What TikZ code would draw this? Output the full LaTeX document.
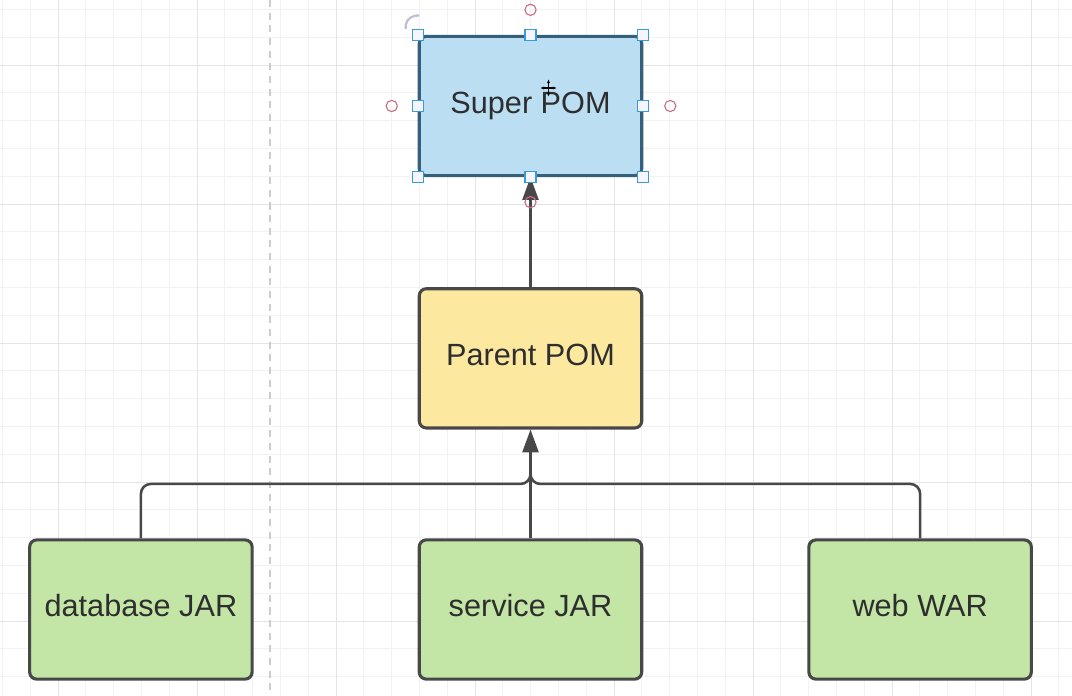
\documentclass[tikz,border=0pt]{standalone}
\usepackage{fontspec}
\setmainfont{Liberation Sans}
\usetikzlibrary{arrows.meta,positioning,calc}
\definecolor{pomblue}{HTML}{BBDEF3}
\definecolor{pomyellow}{HTML}{FDE8A0}
\definecolor{pomgreen}{HTML}{C3E6A6}
\definecolor{edgegray}{HTML}{484848}
\definecolor{selblue}{HTML}{34607C}
\definecolor{handleblue}{HTML}{3B9AD8}
\definecolor{ptred}{HTML}{C8707E}
\definecolor{gridminor}{HTML}{F2F2F2}
\definecolor{gridmajor}{HTML}{E4E4E4}
\tikzset{
  pombox/.style={rectangle, rounded corners=5pt, draw=edgegray, line width=2.2pt, fill=#1,
                 font=\fontsize{21.8}{26}\selectfont, text=black!82,
                 text height=0.6cm, text depth=0.25cm,
                 minimum width=5.56cm, minimum height=3.48cm, inner sep=0pt},
  link/.style={-{Triangle[length=0.57cm, width=0.4cm]}, line width=1.8pt, draw=edgegray},
  branch/.style={line width=1.8pt, draw=edgegray, rounded corners=7pt},
  handle/.style={draw=handleblue, fill=blue!4, line width=0.8pt},
  anchorpt/.style={draw=ptred, line width=0.8pt},
}
\begin{document}
\begin{tikzpicture}[x=0.025cm, y=-0.025cm]
    \useasboundingbox[fill=white] (0,0) rectangle (1072,696);
    % canvas grid
    \foreach \i in {0,...,38}
      \draw[gridminor, line width=0.6pt] ({2.4+27.8*\i},0) -- ({2.4+27.8*\i},696);
    \foreach \i in {0,...,25}
      \draw[gridminor, line width=0.6pt] (0,{9.4+27.8*\i}) -- (1072,{9.4+27.8*\i});
    \foreach \i in {2,7,...,37}
      \draw[gridmajor, line width=0.6pt] ({2.4+27.8*\i},0) -- ({2.4+27.8*\i},696);
    \foreach \i in {2,7,...,22}
      \draw[gridmajor, line width=0.6pt] (0,{9.4+27.8*\i}) -- (1072,{9.4+27.8*\i});
    \draw[black!20, line width=1.4pt, dash pattern=on 5pt off 4pt] (270,0) -- (270,696);

    \node[pombox=pomblue, draw=selblue] (superpom) at (530.5,106) {Super POM};
    \node[pombox=pomyellow, below=2.75cm of superpom] (parentpom) {Parent POM};
    \node[pombox=pomgreen, below=2.72cm of parentpom] (service) {service JAR};
    \node[pombox=pomgreen, left=4.1cm of service] (database) {database JAR};
    \node[pombox=pomgreen, right=4.1cm of service] (web) {web WAR};

    \coordinate (fork) at ($(parentpom.south)!0.5!(service.north)$);
    \draw[branch] (database.north) |- (fork) -- ++(0,-22);
    \draw[branch] (web.north) |- (fork) -- ++(0,-22);
    \draw[link] (service.north) -- (parentpom.south);
    \draw[link] (parentpom.north) -- (superpom.south);

    % selection handles
    \foreach \a in {north west,north,north east,east,south east,south,south west,west}
      \draw[handle] ([shift={(-5.5,-5.5)}]superpom.\a) rectangle ++(11,11);
    \draw[anchorpt] ($(superpom.north)+(0,-25)$) circle[radius=0.14cm];
    \draw[anchorpt] ($(superpom.south)+(0,25)$) circle[radius=0.14cm];
    \draw[anchorpt] ($(superpom.west)+(-26,0)$) circle[radius=0.14cm];
    \draw[anchorpt] ($(superpom.east)+(27,0)$) circle[radius=0.14cm];
    \draw[blue!25!gray!40, line width=1.6pt, -{Latex[length=3pt]}]
      ($(superpom.north west)+(-12,-6)$) arc[start angle=190, end angle=70, radius=0.28cm];
    \draw[black, line width=1.1pt, {Latex[length=3pt]}-{Latex[length=3pt]}] (540,88) -- (557,88);
    \draw[black, line width=1.1pt, {Latex[length=3pt]}-{Latex[length=3pt]}] (548.5,79) -- (548.5,97);
  \end{tikzpicture}
\end{document}
